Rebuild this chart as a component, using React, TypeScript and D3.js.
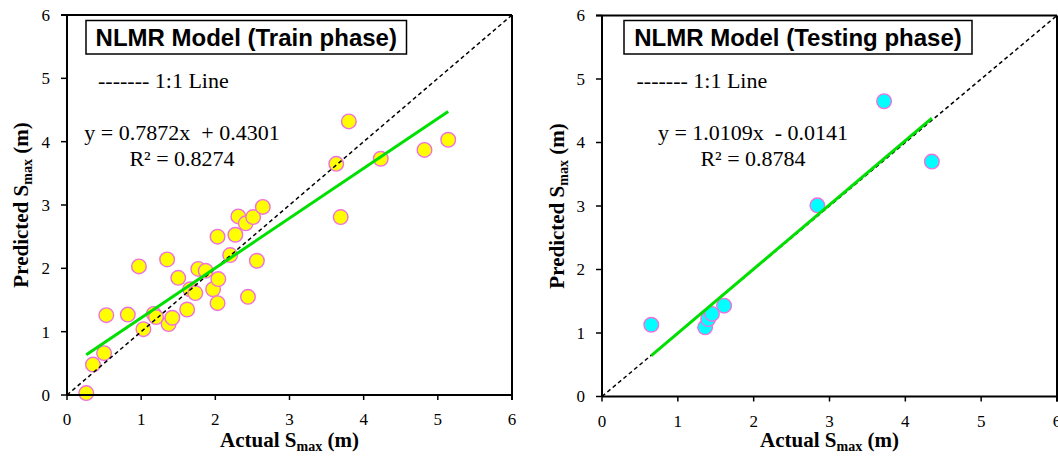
import React from "react";
import * as d3 from "d3";

const trainActual = [0.26, 0.35, 0.5, 0.53, 0.82, 0.97, 1.03, 1.17, 1.2, 1.35, 1.37, 1.42, 1.5, 1.62, 1.66, 1.73, 1.77, 1.87, 1.97, 2.04, 2.03, 2.03, 2.2, 2.27, 2.31, 2.41, 2.44, 2.51, 2.56, 2.64, 3.69, 3.8, 3.63, 4.23, 4.82, 5.14];
const trainPredicted = [0.03, 0.48, 0.66, 1.26, 1.27, 2.03, 1.04, 1.28, 1.23, 2.14, 1.12, 1.22, 1.85, 1.35, 1.67, 1.61, 1.99, 1.96, 1.67, 1.83, 1.45, 2.5, 2.21, 2.53, 2.82, 2.71, 1.55, 2.81, 2.12, 2.97, 2.81, 4.32, 3.65, 3.73, 3.87, 4.03];
const testActual = [0.65, 1.36, 1.4, 1.45, 1.61, 2.84, 3.72, 4.35];
const testPredicted = [1.13, 1.09, 1.22, 1.3, 1.43, 3.01, 4.65, 3.7];

const axisTicks = [0, 1, 2, 3, 4, 5, 6];
const titles = ["NLMR Model (Train phase)", "NLMR Model (Testing phase)"];
const slopes = [0.7872, 1.0109];
const intercepts = [0.4301, -0.0141];
const equationTexts = ["y = 0.7872x  + 0.4301", "y = 1.0109x  - 0.0141"];
const r2Texts = ["R\u00b2 = 0.8274", "R\u00b2 = 0.8784"];
const legendText = "------- 1:1 Line";

const SERIF = "'Liberation Serif', 'Times New Roman', serif";
const SANS = "'Liberation Sans', Arial, sans-serif";

type PanelProps = {
  xs: number[];
  ys: number[];
  x0: number;
  x1: number;
  yBottom: number;
  yTop: number;
  fill: string;
  title: string;
  titleBox: [number, number, number, number];
  legendX: number;
  eqCenter: number;
  slope: number;
  intercept: number;
  eq: string;
  r2: string;
  yTitleX: number;
};

function Panel(p: PanelProps) {
  const x = d3.scaleLinear().domain([0, 6]).range([p.x0, p.x1]);
  const y = d3.scaleLinear().domain([0, 6]).range([p.yBottom, p.yTop]);
  const line = d3.line<[number, number]>().x((d) => x(d[0])).y((d) => y(d[1]));
  const xmin = d3.min(p.xs) as number;
  const xmax = d3.max(p.xs) as number;
  const trend: [number, number][] = [
    [xmin, p.slope * xmin + p.intercept],
    [xmax, p.slope * xmax + p.intercept],
  ];
  const oneToOne: [number, number][] = [
    [0, 0],
    [6, 6],
  ];
  const cx = (p.x0 + p.x1) / 2;
  const cy = (p.yBottom + p.yTop) / 2;
  const [bx, by, bw, bh] = p.titleBox;
  return (
    <g>
      {/* markers */}
      {p.xs.map((v, i) => (
        <circle key={i} cx={x(v)} cy={y(p.ys[i])} r={7.3} fill={p.fill} stroke="#f070dc" strokeWidth={1.4} />
      ))}
      <path d={line(oneToOne) || ""} stroke="#000" strokeWidth={1.5} strokeDasharray="4,3" fill="none" />
      <path d={line(trend) || ""} stroke="#00e000" strokeWidth={3} fill="none" />
      {/* axes */}
      <line x1={p.x0} x2={p.x0} y1={p.yTop} y2={p.yBottom} stroke="#000" strokeWidth={2} />
      <line x1={p.x0 - 6} x2={p.x1} y1={p.yTop} y2={p.yTop} stroke="#000" strokeWidth={2} />
      <line x1={p.x1} x2={p.x1} y1={p.yTop} y2={p.yBottom + 5} stroke="#000" strokeWidth={2} />
      <line x1={p.x0} x2={p.x1} y1={p.yBottom} y2={p.yBottom} stroke="#000" strokeWidth={2} />
      {axisTicks.map((t) => (
        <g key={"y" + t}>
          <line x1={p.x0 - 6} x2={p.x0} y1={y(t)} y2={y(t)} stroke="#000" strokeWidth={1.5} />
          <text x={p.x0 - 17} y={y(t)} dy="0.35em" textAnchor="end" fontFamily={SERIF} fontSize={17}>
            {t}
          </text>
        </g>
      ))}
      {axisTicks.map((t) => (
        <g key={"x" + t}>
          <line x1={x(t)} x2={x(t)} y1={p.yBottom} y2={p.yBottom + 5} stroke="#000" strokeWidth={1.5} />
          <text x={x(t)} y={p.yBottom + 30} textAnchor="middle" fontFamily={SERIF} fontSize={17}>
            {t}
          </text>
        </g>
      ))}
      {/* axis titles */}
      <text x={cx} y={447} textAnchor="middle" fontFamily={SERIF} fontSize={21} fontWeight="bold">
        <tspan>Actual S</tspan>
        <tspan fontSize={14} dy={4}>max</tspan>
        <tspan dy={-4}> (m)</tspan>
      </text>
      <text
        transform={`translate(${p.yTitleX},${cy}) rotate(-90)`}
        textAnchor="middle"
        fontFamily={SERIF}
        fontSize={21}
        fontWeight="bold"
      >
        <tspan>Predicted S</tspan>
        <tspan fontSize={14} dy={4}>max</tspan>
        <tspan dy={-4}> (m)</tspan>
      </text>
      {/* title box */}
      <rect x={bx} y={by} width={bw} height={bh} fill="#fff" stroke="#000" strokeWidth={1.5} />
      <text x={bx + bw / 2} y={by + bh / 2} dy="0.36em" textAnchor="middle" fontFamily={SANS} fontSize={24} fontWeight="bold">
        {p.title}
      </text>
      <text x={p.legendX} y={88} fontFamily={SERIF} fontSize={22} xmlSpace="preserve">
        {legendText}
      </text>
      <text x={p.eqCenter} y={140} textAnchor="middle" fontFamily={SERIF} fontSize={22} style={{ whiteSpace: "pre" }}>
        {p.eq}
      </text>
      <text x={p.eqCenter} y={166} textAnchor="middle" fontFamily={SERIF} fontSize={22}>
        {p.r2}
      </text>
    </g>
  );
}

export default function App() {
  return (
    <div style={{ position: "absolute", left: 0, top: 0 }}>
      <svg width={1058} height={460} style={{ display: "block", background: "#fff" }}>
        <Panel
          xs={trainActual}
          ys={trainPredicted}
          x0={67}
          x1={512}
          yBottom={395}
          yTop={15}
          fill="#ffff00"
          title={titles[0]}
          titleBox={[86, 20.5, 320.5, 33.5]}
          legendX={98}
          eqCenter={182}
          slope={slopes[0]}
          intercept={intercepts[0]}
          eq={equationTexts[0]}
          r2={r2Texts[0]}
          yTitleX={28}
        />
        <Panel
          xs={testActual}
          ys={testPredicted}
          x0={602}
          x1={1057}
          yBottom={396.5}
          yTop={15.5}
          fill="#00ffff"
          title={titles[1]}
          titleBox={[624, 20.5, 348, 33.5]}
          legendX={636.5}
          eqCenter={753}
          slope={slopes[1]}
          intercept={intercepts[1]}
          eq={equationTexts[1]}
          r2={r2Texts[1]}
          yTitleX={564}
        />
      </svg>
    </div>
  );
}
